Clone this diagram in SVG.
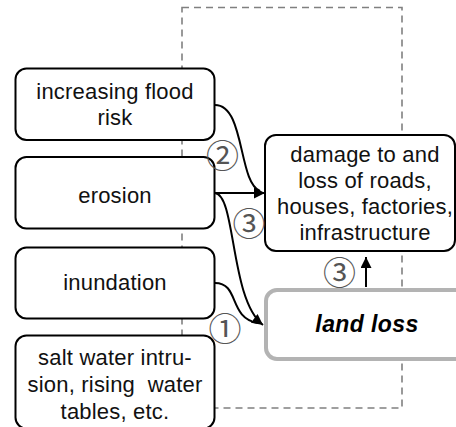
<svg xmlns="http://www.w3.org/2000/svg" width="456" height="427" viewBox="0 0 456 427">
  <style>
    .box { fill: #ffffff; stroke: #000000; stroke-width: 2; }
    .focus { fill: #ffffff; stroke: #b3b3b3; stroke-width: 4; }
    .lbl { font-family: "Liberation Sans", Arial, sans-serif; font-size: 22px; fill: #111111; text-anchor: middle; letter-spacing: 0.2px; }
    .key { font-family: "Liberation Sans", Arial, sans-serif; font-size: 23px; font-weight: bold; font-style: italic; fill: #000000; text-anchor: middle; letter-spacing: 0.4px; }
    .num { font-family: "Noto Sans CJK JP", "DejaVu Sans", sans-serif; font-size: 33px; fill: #555555; text-anchor: middle; dominant-baseline: central; }
    .link { fill: none; stroke: #000000; stroke-width: 2; }
    .frame { fill: none; stroke: #808080; stroke-width: 1.6; stroke-dasharray: 7 5; }
  </style>
  <defs>
    <marker id="arrow" markerUnits="userSpaceOnUse" markerWidth="12" markerHeight="12" refX="11" refY="5.5" orient="auto">
      <path d="M0,0 L11,5.5 L0,11 Z" fill="#000000"/>
    </marker>
  </defs>

  <!-- dashed boundary behind the nodes -->
  <rect class="frame" x="182" y="7.5" width="220" height="400.5"/>

  <g id="connectors">
    <path class="link" d="M215,105 C245,105 238,182 260,191"/>
    <path class="link" d="M215,193 L265,193" marker-end="url(#arrow)"/>
    <path class="link" d="M215,193 C236,195 230,300 263,325" marker-end="url(#arrow)"/>
    <path class="link" d="M215,283 C240,283 228,318 258,323"/>
    <path class="link" d="M366,287 L366,257" marker-end="url(#arrow)"/>
  </g>

  <g id="n-flood">
    <rect class="box" x="15.5" y="68.5" width="199" height="71.5" rx="11"/>
    <text class="lbl" x="115" y="99">increasing flood</text>
    <text class="lbl" x="115" y="125">risk</text>
  </g>
  <g id="n-erosion">
    <rect class="box" x="15.5" y="157" width="199" height="71.5" rx="11"/>
    <text class="lbl" x="115" y="203">erosion</text>
  </g>
  <g id="n-inundation">
    <rect class="box" x="15.5" y="247.5" width="199" height="71" rx="11"/>
    <text class="lbl" x="115" y="290">inundation</text>
  </g>
  <g id="n-salt">
    <rect class="box" x="15.5" y="335.5" width="199" height="93" rx="11"/>
    <text class="lbl" x="115" y="365">salt water intru-</text>
    <text class="lbl" x="115" y="392" xml:space="preserve">sion, rising  water</text>
    <text class="lbl" x="115" y="419">tables, etc.</text>
  </g>
  <g id="n-damage">
    <rect class="box" x="265" y="135" width="190" height="116" rx="11"/>
    <text class="lbl" x="365" y="162">damage to and</text>
    <text class="lbl" x="365" y="188">loss of roads,</text>
    <text class="lbl" x="365" y="214">houses, factories,</text>
    <text class="lbl" x="365" y="240">infrastructure</text>
  </g>
  <g id="n-landloss">
    <rect class="focus" x="266" y="290" width="200" height="69" rx="11"/>
    <text class="key" x="367" y="332">land loss</text>
  </g>

  <g id="step-marks">
    <text class="num" x="222.5" y="153.5">②</text>
    <text class="num" x="249" y="222">③</text>
    <text class="num" x="225" y="326.5">①</text>
    <text class="num" x="339.5" y="271">③</text>
  </g>
</svg>
